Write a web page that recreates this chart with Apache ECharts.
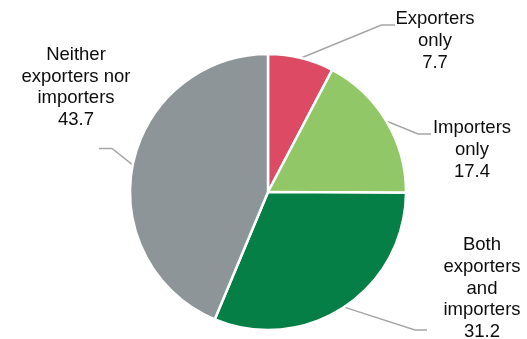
<!DOCTYPE html>
<html>
<head>
<meta charset="utf-8">
<script src="https://cdn.jsdelivr.net/npm/echarts@6/dist/echarts.min.js"></script>
<style>
html,body{margin:0;padding:0;background:#fff;}
#chart{width:527px;height:339px;}
</style>
</head>
<body>
<div id="chart"></div>
<script>
// Data
const categories = ['Exporters\nonly', 'Importers\nonly', 'Both\nexporters\nand\nimporters', 'Neither\nexporters nor\nimporters'];
const values = [7.7, 17.4, 31.2, 43.7];
const colors = ['#DC4A64', '#92C768', '#067F46', '#8E9598'];

// Label placement (layout only)
const labelPos = [
  { x: 435, y: 41, elbow: [381.5, 25], end: [395, 25] },
  { x: 472, y: 150, elbow: [418, 134], end: [431, 134] },
  { x: 482, y: 288.5, elbow: [415, 330], end: [427, 330] },
  { x: 76, y: 87.5, elbow: [112, 148.5], end: [99, 148.5] }
];

const chart = echarts.init(document.getElementById('chart'));
chart.setOption({
  animation: false,
  series: [{
    type: 'pie',
    center: [268, 192],
    radius: 138,
    startAngle: 90,
    clockwise: true,
    data: categories.map((c, i) => ({ name: c, value: values[i], itemStyle: { color: colors[i] } })),
    itemStyle: { borderColor: '#ffffff', borderWidth: 2.5 },
    emphasis: { disabled: true },
    label: {
      show: true,
      position: 'outside',
      formatter: '{b}\n{c}',
      fontFamily: 'Liberation Sans, Arial, sans-serif',
      fontSize: 18.5,
      lineHeight: 21.7,
      color: '#0d0d0d',
      align: 'center',
      overflow: 'none',
      edgeDistance: 0
    },
    labelLine: {
      show: true,
      length: 20,
      length2: 10,
      lineStyle: { color: '#A6A6A6', width: 1.5 }
    },
    labelLayout: function (params) {
      const p = labelPos[params.dataIndex];
      const start = (params.labelLinePoints && params.labelLinePoints[0]) || p.elbow;
      return {
        x: p.x,
        y: p.y,
        align: 'center',
        verticalAlign: 'middle',
        labelLinePoints: [start, p.elbow, p.end]
      };
    }
  }]
});
</script>
</body>
</html>
